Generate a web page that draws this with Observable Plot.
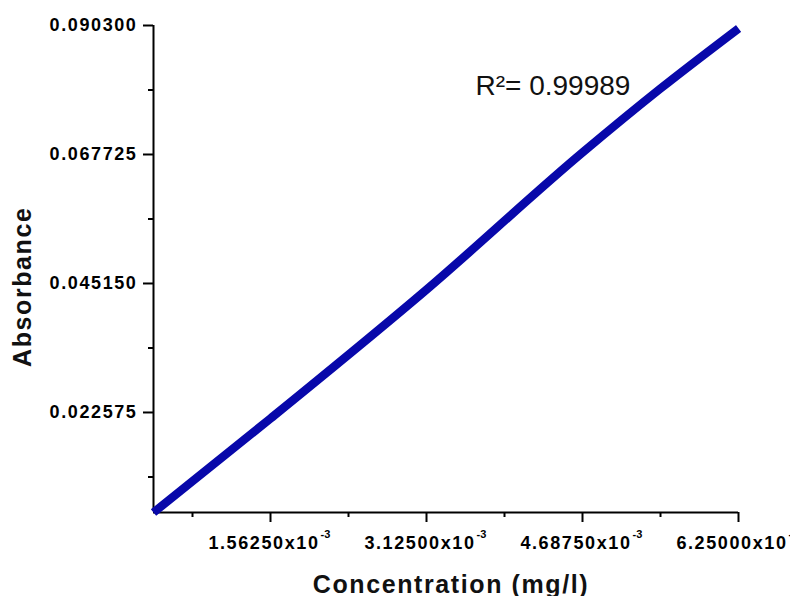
<!DOCTYPE html>
<html>
<head>
<meta charset="utf-8">
<script src="https://cdn.jsdelivr.net/npm/d3@7"></script>
<script src="https://cdn.jsdelivr.net/npm/@observablehq/plot@0.6"></script>
<style>
  html, body { margin: 0; padding: 0; background: white; }
  #chart svg { overflow: hidden; display: block; }
</style>
</head>
<body>
<div id="chart"></div>
<script>
// Concentration (mg/l) and absorbance
const conc = [0.000390625, 0.0015625, 0.003115, 0.0046875, 0.00546875, 0.00625];
const absorb = [0.00507, 0.02152, 0.04392, 0.06807, 0.07927, 0.08978];

// Axis ticks and labels
const xMajor = [0.0015625, 0.003125, 0.0046875, 0.00625];
const xMajorLabels = ["1.56250x10", "3.12500x10", "4.68750x10", "6.25000x10"];
const xExponent = "-3";
const xMinor = [0.00078125, 0.00234375, 0.00390625, 0.00546875];
const yMajor = [0.022575, 0.04515, 0.067725, 0.0903];
const yMajorLabels = ["0.022575", "0.045150", "0.067725", "0.090300"];
const yMinor = [0.0112875, 0.0338625, 0.0564375, 0.0790125];
const xDomain = [0.000390625, 0.00625];
const yDomain = [0.00507, 0.0903];

// Annotation
const r2Label = [{x: 0.003616, y: 0.07963, text: "R\u00B2= 0.99989"}];
const xTitle = "Concentration (mg/l)";
const yTitle = "Absorbance";

const data = conc.map((c, i) => ({c, a: absorb[i]}));
const font = "'Liberation Sans', Arial, sans-serif";

const svg = Plot.plot({
  width: 790,
  height: 596,
  marginLeft: 153,
  marginRight: 52,
  marginTop: 25,
  marginBottom: 84,
  style: {fontFamily: font, background: "white", color: "black"},
  x: {domain: xDomain},
  y: {domain: yDomain},
  marks: [
    Plot.axisX({ticks: xMinor, tickSize: 5, strokeWidth: 2, tickFormat: () => "", label: null}),
    Plot.axisX({ticks: xMajor, tickSize: 10, strokeWidth: 2, tickFormat: () => "", label: null}),
    Plot.axisY({ticks: yMinor, tickSize: 5, strokeWidth: 2, tickFormat: () => "", label: null}),
    Plot.axisY({ticks: yMajor, tickSize: 10, tickPadding: 6, strokeWidth: 2,
      tickFormat: (d) => yMajorLabels[yMajor.indexOf(d)],
      fontSize: 18, fontWeight: "bold", label: null}),
    Plot.text(xMajor, {x: d => d, frameAnchor: "bottom", text: (d, i) => xMajorLabels[i],
      textAnchor: "end", dx: 49, dy: 31, lineAnchor: "middle",
      fontSize: 18, fontWeight: "bold", fill: "black"}),
    Plot.text(xMajor, {x: d => d, frameAnchor: "bottom", text: () => xExponent,
      textAnchor: "start", dx: 50, dy: 22, lineAnchor: "middle",
      fontSize: 11, fontWeight: "bold", fill: "black"}),
    Plot.ruleY([yDomain[0]], {strokeWidth: 2, stroke: "black"}),
    Plot.ruleX([xDomain[0]], {y1: yDomain[0], y2: yDomain[1], strokeWidth: 2, stroke: "black", insetTop: -2}),
    Plot.line(data, {x: "c", y: "a", stroke: "#0808aa", strokeWidth: 8.5, strokeLinecap: "butt", curve: "monotone-x"}),
    Plot.text(r2Label, {x: "x", y: "y", text: "text", textAnchor: "start", lineAnchor: "middle",
      fontSize: 28, fill: "#111"}),
    Plot.text([xTitle], {frameAnchor: "bottom", text: d => d, dx: 5, dy: 72, lineAnchor: "middle",
      fontSize: 25, fontWeight: "bold", fill: "#111"}),
    Plot.text([yTitle], {frameAnchor: "left", text: d => d, rotate: -90, dx: -131, dy: 98,
      lineAnchor: "middle", fontSize: 25, fontWeight: "bold", fill: "#111"})
  ]
});

d3.select(svg).selectAll('[font-weight="bold"]').each(function() {
  const el = d3.select(this);
  const fs = +el.attr("font-size");
  if (fs >= 15) el.style("letter-spacing", "1.6px");
});

document.getElementById("chart").appendChild(svg);
</script>
</body>
</html>
